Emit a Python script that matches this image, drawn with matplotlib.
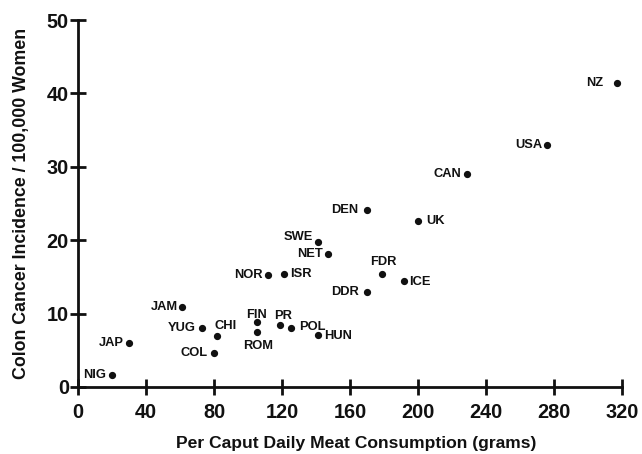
import matplotlib
matplotlib.use("Agg")
import matplotlib.pyplot as plt

countries = ["NZ", "USA", "CAN", "DEN", "UK", "SWE", "NET", "NOR", "ISR", "FDR",
             "ICE", "DDR", "POL", "HUN", "PR", "FIN", "ROM", "CHI", "YUG", "COL",
             "JAP", "JAM", "NIG"]
meat = [317, 276, 229, 170, 200, 141, 147, 112, 121, 179,
        192, 170, 125, 141, 119, 105, 105, 82, 73, 80,
        30, 61, 20]
incidence = [41.4, 33.0, 29.0, 24.1, 22.6, 19.8, 18.1, 15.3, 15.4, 15.4,
             14.5, 13.0, 8.1, 7.1, 8.5, 8.9, 7.5, 7.0, 8.1, 4.6,
             6.0, 10.9, 1.6]

# label offsets in pixels (dx, dy) and alignment
label_pos = {
    "NZ": (-14, 0, "right", "center"),
    "USA": (-5, 0, "right", "center"),
    "CAN": (-6, 0, "right", "center"),
    "DEN": (-9, 0, "right", "center"),
    "UK": (8, 0, "left", "center"),
    "SWE": (-5, 5, "right", "center"),
    "NET": (-5, 0, "right", "center"),
    "NOR": (-6, 0, "right", "center"),
    "ISR": (6, 0, "left", "center"),
    "FDR": (1, 12, "center", "center"),
    "ICE": (5, -1, "left", "center"),
    "DDR": (-8, 0, "right", "center"),
    "POL": (9, 1, "left", "center"),
    "HUN": (6, -1, "left", "center"),
    "PR": (3, 9, "center", "center"),
    "FIN": (0, 7, "center", "center"),
    "ROM": (2, -14, "center", "center"),
    "CHI": (8, 10, "center", "center"),
    "YUG": (-6, 0, "right", "center"),
    "COL": (-6, 0, "right", "center"),
    "JAP": (-5, 0, "right", "center"),
    "JAM": (-4, 0, "right", "center"),
    "NIG": (-6, 0, "right", "center"),
}

plt.rcParams['font.family'] = ['Liberation Sans', 'DejaVu Sans']
ink = "#111111"

fig = plt.figure(figsize=(6.42, 4.54), dpi=100)
ax = fig.add_axes([78/642, 1-387/454, 544/642, 367/454])

ax.plot(meat, incidence, 'o', color=ink, markersize=4.2, clip_on=False)

px = 0.72
for c, x, y in zip(countries, meat, incidence):
    dx, dy, ha, va = label_pos[c]
    ax.annotate(c, (x, y), xytext=(dx*px, dy*px), textcoords='offset points',
                ha=ha, va=va, fontsize=9.3, fontweight='bold', color=ink)

ax.set_xlim(0, 320)
ax.set_ylim(0, 50)
ax.set_xticks(range(0, 321, 40))
ax.set_yticks(range(0, 51, 10))
for s in ["top", "right"]:
    ax.spines[s].set_visible(False)
for s in ["left", "bottom"]:
    ax.spines[s].set_linewidth(2.0)
    ax.spines[s].set_color(ink)
ax.tick_params(direction='inout', length=11, width=2.0, colors=ink,
               labelsize=14.3, labelcolor=ink)
ax.tick_params(axis='y', pad=1)
ax.tick_params(axis='x', pad=6)
for lab in ax.get_xticklabels() + ax.get_yticklabels():
    lab.set_fontweight('bold')

ax.set_xlabel("Per Caput Daily Meat Consumption (grams)", fontsize=12.6,
              fontweight='bold', color=ink)
ax.set_ylabel("Colon Cancer Incidence / 100,000 Women", fontsize=12.8,
              fontweight='bold', color=ink)
ax.yaxis.set_label_coords(-(78-30)/544, (387-203)/367)
ax.xaxis.set_label_coords((356-78)/544, -(436-387)/367)

fig.savefig("out.png", dpi=100)
